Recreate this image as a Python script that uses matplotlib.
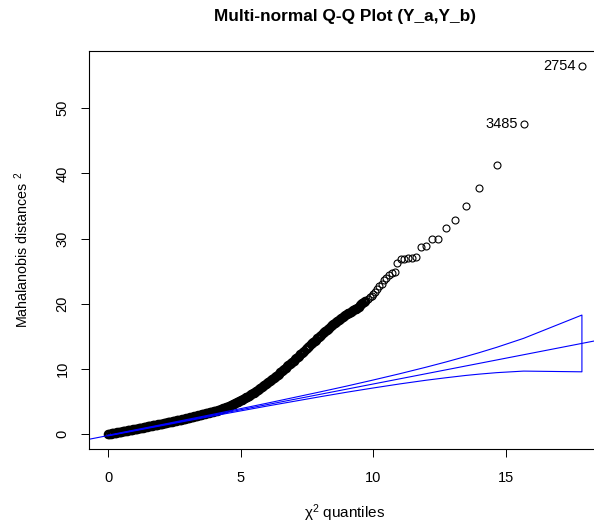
import matplotlib
matplotlib.use("Agg")
import matplotlib.pyplot as plt

plt.rcParams['font.family'] = ['Liberation Sans', 'DejaVu Sans']
plt.rcParams['mathtext.fontset'] = 'custom'
plt.rcParams['mathtext.rm'] = 'Liberation Sans'
plt.rcParams['mathtext.it'] = 'Liberation Sans:italic'
plt.rcParams['mathtext.default'] = 'regular'

# ---- data ----
# dense part of the Q-Q curve: chi-square quantile -> squared Mahalanobis distance
dense_q = [0.00, 0.05, 0.10, 0.15, 0.20, 0.25, 0.30, 0.35, 0.40, 0.45,
           0.50, 0.55, 0.60, 0.65, 0.70, 0.75, 0.80, 0.85, 0.90, 0.95,
           1.00, 1.05, 1.10, 1.15, 1.20, 1.25, 1.30, 1.35, 1.40, 1.45,
           1.50, 1.55, 1.60, 1.65, 1.70, 1.75, 1.80, 1.85, 1.90, 1.95,
           2.00, 2.05, 2.10, 2.15, 2.20, 2.25, 2.30, 2.35, 2.40, 2.45,
           2.50, 2.55, 2.60, 2.65, 2.70, 2.75, 2.80, 2.85, 2.90, 2.95,
           3.00, 3.05, 3.10, 3.15, 3.20, 3.25, 3.30, 3.35, 3.40, 3.45,
           3.50, 3.55, 3.60, 3.65, 3.70, 3.75, 3.80, 3.85, 3.90, 3.95,
           4.00, 4.05, 4.10, 4.15, 4.20, 4.25, 4.30, 4.35, 4.40, 4.45,
           4.50, 4.55, 4.60, 4.65, 4.70, 4.75, 4.80, 4.85, 4.90, 4.95,
           5.00, 5.05, 5.10, 5.15, 5.20, 5.25, 5.30, 5.35, 5.40, 5.45,
           5.50, 5.55, 5.60, 5.65, 5.70, 5.75, 5.80, 5.85, 5.90, 5.95,
           6.00, 6.05, 6.10, 6.15, 6.20, 6.25, 6.30, 6.35, 6.40, 6.45,
           6.50, 6.55, 6.60, 6.65, 6.70, 6.75, 6.80, 6.85, 6.90, 6.95,
           7.00, 7.05, 7.10, 7.15, 7.20, 7.25, 7.30, 7.35, 7.40, 7.45,
           7.50, 7.55, 7.60, 7.65, 7.70, 7.75, 7.80, 7.85, 7.90, 7.95,
           8.00, 8.05, 8.10, 8.15, 8.20, 8.25, 8.30, 8.35, 8.40, 8.45,
           8.50, 8.55, 8.60, 8.65, 8.70, 8.75, 8.80, 8.85, 8.90, 8.95,
           9.00, 9.05, 9.10, 9.15, 9.20, 9.25, 9.30, 9.35, 9.40, 9.45,
           9.50, 9.55, 9.60, 9.65, 9.70]
dense_d2 = [0.05, 0.08, 0.12, 0.16, 0.20, 0.24, 0.27, 0.31, 0.35, 0.39,
            0.42, 0.46, 0.50, 0.54, 0.57, 0.61, 0.65, 0.69, 0.72, 0.76,
            0.80, 0.84, 0.88, 0.92, 0.96, 1.00, 1.04, 1.08, 1.12, 1.16,
            1.20, 1.24, 1.28, 1.32, 1.36, 1.40, 1.44, 1.48, 1.52, 1.56,
            1.60, 1.64, 1.69, 1.73, 1.78, 1.82, 1.87, 1.91, 1.96, 2.00,
            2.05, 2.09, 2.14, 2.18, 2.23, 2.27, 2.32, 2.36, 2.41, 2.45,
            2.50, 2.55, 2.60, 2.65, 2.70, 2.75, 2.80, 2.85, 2.90, 2.95,
            3.00, 3.05, 3.10, 3.15, 3.20, 3.25, 3.30, 3.35, 3.40, 3.45,
            3.50, 3.56, 3.63, 3.70, 3.77, 3.84, 3.91, 3.98, 4.05, 4.12,
            4.20, 4.29, 4.39, 4.48, 4.58, 4.68, 4.78, 4.88, 4.99, 5.09,
            5.20, 5.31, 5.43, 5.55, 5.67, 5.79, 5.91, 6.03, 6.15, 6.27,
            6.40, 6.53, 6.67, 6.81, 6.95, 7.09, 7.23, 7.37, 7.51, 7.65,
            7.80, 7.96, 8.13, 8.30, 8.47, 8.64, 8.81, 8.98, 9.15, 9.32,
            9.50, 9.68, 9.86, 10.04, 10.22, 10.40, 10.58, 10.76, 10.94, 11.12,
            11.30, 11.49, 11.68, 11.87, 12.06, 12.25, 12.44, 12.63, 12.82, 13.01,
            13.20, 13.39, 13.58, 13.77, 13.96, 14.15, 14.34, 14.53, 14.72, 14.91,
            15.10, 15.28, 15.46, 15.64, 15.82, 16.00, 16.18, 16.36, 16.54, 16.72,
            16.90, 17.05, 17.20, 17.35, 17.50, 17.65, 17.80, 17.95, 18.10, 18.25,
            18.40, 18.52, 18.65, 18.77, 18.90, 19.02, 19.15, 19.27, 19.40, 19.57,
            19.75, 19.92, 20.10, 20.27, 20.45]
# upper tail, individual points
tail_q = [9.80, 9.87, 9.94, 10.01, 10.08, 10.16, 10.24, 10.32, 10.41, 10.50,
          10.60, 10.70, 10.81, 10.92, 11.04, 11.17, 11.30, 11.45, 11.62, 11.79,
          11.99, 12.21, 12.46, 12.75, 13.08, 13.49, 13.99, 14.66, 15.68, 17.88]
tail_d2 = [20.8, 21.0, 21.2, 21.5, 21.8, 22.3, 22.7, 23.1, 23.6, 23.9,
           24.4, 24.7, 24.9, 26.2, 26.8, 26.9, 27.0, 27.1, 27.2, 28.7,
           28.9, 29.9, 30.0, 31.6, 32.9, 35.0, 37.7, 41.3, 47.5, 56.4]
# labelled outliers
outlier_ids = ["3485", "2754"]
outlier_q = [15.68, 17.88]
outlier_d2 = [47.5, 56.4]

# reference line
ref_intercept = -0.19
ref_slope = 0.79

# confidence envelope
env_q = [0.0, 2.0, 4.0, 6.0, 8.0, 9.0, 10.0, 11.0, 12.0, 12.75, 13.49, 13.99, 14.66, 15.68, 17.88]
env_upper = [-0.14, 1.47, 3.10, 4.77, 6.50, 7.39, 8.32, 9.28, 10.29, 11.09, 11.92, 12.50, 13.33, 14.71, 18.28]
env_lower = [-0.24, 1.31, 2.84, 4.33, 5.76, 6.45, 7.10, 7.72, 8.29, 8.67, 9.02, 9.22, 9.45, 9.69, 9.58]

x_ticks = [0, 5, 10, 15]
y_ticks = [0, 10, 20, 30, 40, 50]

title = "Multi-normal Q-Q Plot (Y_a,Y_b)"
xlabel = "χ$^{2}$ quantiles"
ylabel = "Mahalanobis distances $^{2}$"

# ---- figure ----
W, H = 594, 527
fig = plt.figure(figsize=(W / 100, H / 100), dpi=100)
L, R, T, B = 89, 601, 51, 449
ax = fig.add_axes([L / W, 1 - B / H, (R - L) / W, (B - T) / H])

ax.plot(dense_q, dense_d2, marker='o', linestyle='none', markersize=5.4,
        markerfacecolor='none', markeredgecolor='black', markeredgewidth=1.5)
ax.plot(tail_q, tail_d2, marker='o', linestyle='none', markersize=5.0,
        markerfacecolor='none', markeredgecolor='black', markeredgewidth=0.8)

ax.axline((0, ref_intercept), slope=ref_slope, color='blue', lw=0.8)
poly_x = env_q + env_q[::-1] + [env_q[0]]
poly_y = env_upper + env_lower[::-1] + [env_upper[0]]
ax.plot(poly_x, poly_y, color='blue', lw=0.8)

for lab, qx, dy in zip(outlier_ids, outlier_q, outlier_d2):
    ax.annotate(lab, (qx, dy), xytext=(-6, 0), textcoords='offset pixels',
                ha='right', va='center', fontsize=10.5)

ax.set_xlim(-0.72, 18.6)
ax.set_ylim(-2.25, 58.75)
ax.set_xticks(x_ticks)
ax.set_yticks(y_ticks)
ax.tick_params(axis='both', direction='out', length=6.1, width=0.7, labelsize=10.5)
ax.tick_params(axis='x', pad=10)
ax.tick_params(axis='y', pad=8)
for lbl in ax.get_yticklabels():
    lbl.set_rotation(90)
    lbl.set_va('center')
for s in ax.spines.values():
    s.set_linewidth(0.8)

cx = (L + R) / 2 / W
fig.text(cx, 1 - 17 / H, title, ha='center', va='center', fontsize=12.4, fontweight='bold')
fig.text(cx, 1 - 513 / H, xlabel, ha='center', va='center', fontsize=11)
fig.text(22 / W, 1 - 250 / H, ylabel, ha='center', va='center', rotation=90, fontsize=10.3)

fig.savefig("out.png", dpi=100)
